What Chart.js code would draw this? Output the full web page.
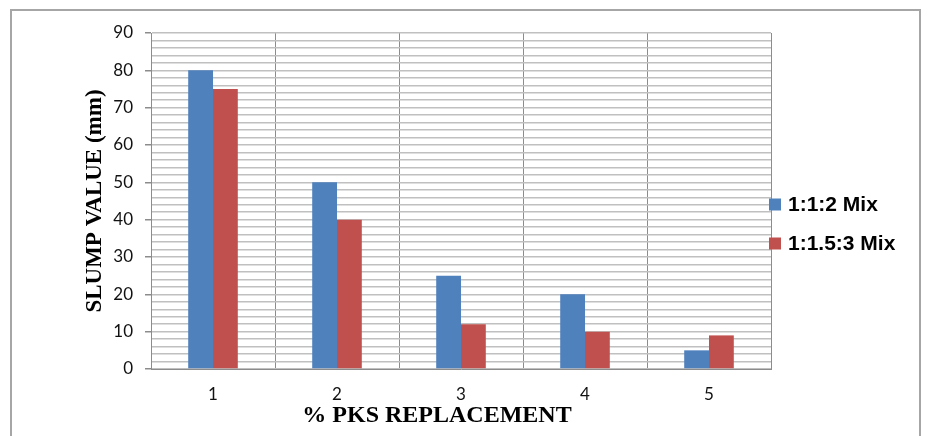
<!DOCTYPE html>
<html>
<head>
<meta charset="utf-8">
<title>Slump value vs % PKS replacement</title>
<script src="https://cdn.jsdelivr.net/npm/chart.js@4.4.1/dist/chart.umd.min.js"></script>
<style>
    html, body { margin: 0; padding: 0; background: #fff; overflow: hidden; }
    #wrap { position: relative; width: 930px; height: 436px; }
    #frame {
        position: absolute; left: 10px; top: 9px; width: 907px; height: 470px;
        border: 2px solid #a6a6a6;
    }
    #slumpChart { position: absolute; left: 0; top: 0; }
</style>
</head>
<body>
<div id="wrap">
    <div id="frame"></div>
    <canvas id="slumpChart" width="930" height="436"></canvas>
</div>
<script>
const categories = ['1', '2', '3', '4', '5'];
const mixA = [80, 50, 25, 20, 5];   // 1:1:2 Mix
const mixB = [75, 40, 12, 10, 9];   // 1:1.5:3 Mix
const seriesNames = ['1:1:2 Mix', '1:1.5:3 Mix'];
const seriesColors = ['#4f81bd', '#c0504d'];
const yTickLabels = [0, 10, 20, 30, 40, 50, 60, 70, 80, 90];

// Legend to the right of the plot, like the Excel original
const sideLegend = {
    id: 'sideLegend',
    afterDraw(chart) {
        const { ctx, chartArea } = chart;
        const mid = (chartArea.top + chartArea.bottom) / 2 + 23;
        ctx.save();
        ctx.font = 'bold 21px "Liberation Sans", Arial, sans-serif';
        ctx.textBaseline = 'middle';
        ctx.textAlign = 'left';
        chart.data.datasets.forEach((ds, i) => {
            const y = mid - 19.5 + i * 39;
            ctx.fillStyle = ds.backgroundColor;
            ctx.fillRect(chartArea.right - 2, y - 6, 12, 12);
            ctx.fillStyle = '#000';
            ctx.fillText(ds.label, chartArea.right + 17, y + 1);
        });
        ctx.restore();
    }
};

function initChart() {
    const ctx = document.getElementById('slumpChart').getContext('2d');
    new Chart(ctx, {
        type: 'bar',
        data: {
            labels: categories,
            datasets: [
                { label: seriesNames[0], data: mixA, backgroundColor: seriesColors[0] },
                { label: seriesNames[1], data: mixB, backgroundColor: seriesColors[1] }
            ]
        },
        options: {
            responsive: false,
            animation: false,
            devicePixelRatio: 1,
            layout: { padding: { top: 33, left: 81, right: 159, bottom: 6 } },
            datasets: {
                bar: { categoryPercentage: 0.4, barPercentage: 1.0, borderWidth: 0 }
            },
            plugins: {
                legend: { display: false },
                tooltip: { enabled: false }
            },
            scales: {
                x: {
                    afterFit: (scale) => { scale.height = 61; },
                    grid: { offset: true, color: '#8c8c8c', lineWidth: 1, drawTicks: false },
                    border: { color: '#8c8c8c', width: 1 },
                    ticks: {
                        padding: 15,
                        color: '#111',
                        font: { family: 'Lato, "Open Sans", sans-serif', size: 17 }
                    },
                    title: {
                        display: true,
                        text: '% PKS REPLACEMENT' + '        ',
                        color: '#000',
                        padding: { top: 0, bottom: 0 },
                        font: { family: '"Liberation Serif", "Times New Roman", serif', size: 24, weight: 'bold' }
                    }
                },
                y: {
                    min: 0,
                    max: 90,
                    afterFit: (scale) => { scale.width = 70; },
                    grid: {
                        color: '#c0c0c0',
                        lineWidth: 1.5,
                        tickLength: 6,
                        tickColor: (c) => yTickLabels.includes(c.tick.value) ? '#8c8c8c' : 'rgba(0,0,0,0)'
                    },
                    border: { color: '#8c8c8c', width: 1 },
                    ticks: {
                        stepSize: 2,
                        autoSkip: false,
                        padding: 12,
                        color: '#111',
                        font: { family: 'Lato, "Open Sans", sans-serif', size: 17 },
                        callback: (v) => yTickLabels.includes(v) ? v : ''
                    },
                    title: {
                        display: true,
                        text: 'SLUMP VALUE (mm)',
                        color: '#000',
                        padding: { top: 0, bottom: 0 },
                        font: { family: '"Liberation Serif", "Times New Roman", serif', size: 23, weight: 'bold' }
                    }
                }
            }
        },
        plugins: [sideLegend]
    });
}

document.addEventListener('DOMContentLoaded', initChart);
</script>
</body>
</html>
